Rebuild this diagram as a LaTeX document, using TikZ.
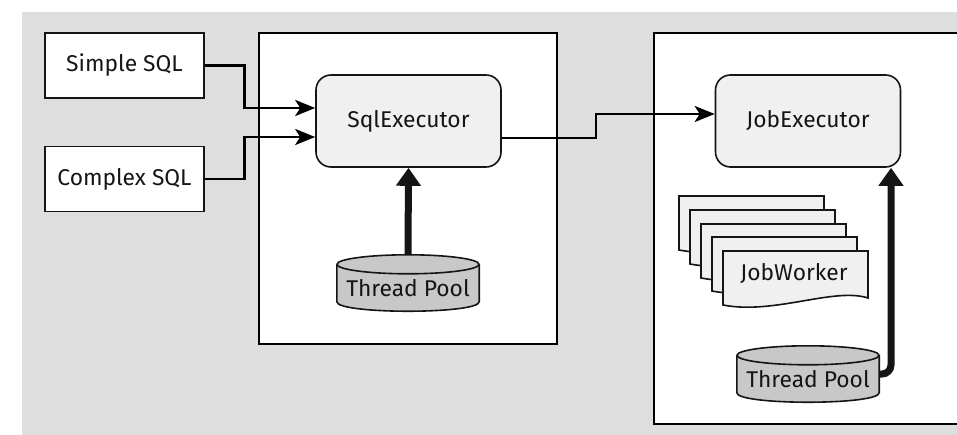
\documentclass[tikz,border=0pt]{standalone}
\usepackage{fontspec}
\setmainfont{Fira Sans}
\usetikzlibrary{arrows.meta,calc}

\definecolor{bggray}{HTML}{DEDEDE}
\definecolor{boxfill}{HTML}{F0F0F0}
\definecolor{poolfill}{HTML}{C8C8C8}
\definecolor{ink}{HTML}{151515}

\tikzset{
  label text/.style={font=\fontsize{22.8}{26}\selectfont, text=ink},
  plainbox/.style={draw=ink, line width=1.6pt, fill=white, minimum width=159pt, minimum height=65pt, inner sep=0pt, label text},
  execbox/.style={draw=ink, line width=1.6pt, fill=boxfill, rounded corners=15pt, minimum width=185pt, minimum height=92pt, inner sep=0pt, label text},
  poolbody/.style={minimum width=142pt, minimum height=56pt, inner sep=0pt},
  container/.style={draw=black, line width=2pt, fill=white},
  flow/.style={draw=black, line width=2.8pt, -{Stealth[length=20pt, width=16pt, inset=5pt]}},
  feed/.style={draw=ink, line width=7pt, -{Triangle[length=18pt, width=24pt]}},
  docpage/.style={draw=ink, line width=1.6pt, fill=boxfill},
}

\begin{document}
\begin{tikzpicture}[x=1pt, y=-1pt]
  \useasboundingbox (0,0) rectangle (957,435);
  \fill[bggray] (22,12) rectangle (957,435);

  % containers
  \draw[container] (259,33) rectangle (557,344);
  \fill[white] (654,33) rectangle (957,424);
  \draw[black, line width=2pt] (957,33) -- (654,33) -- (654,424) -- (957,424);

  % inputs
  \node[plainbox] (simple) at (124.5,65.5) {Simple SQL};
  \node[plainbox] (complex) at (124.5,179) {Complex SQL};

  % executors
  \node[execbox] (sql) at (408.5,121) {SqlExecutor};
  \node[execbox] (job) at (808,121) {JobExecutor};

  % thread pool cylinders
  \node[poolbody] (pool1) at (408,283) {};
  \node[poolbody] (pool2) at (808,374) {};
  \foreach \p in {pool1,pool2}{
    \path (\p.north west) ++(0,9.5) coordinate (\p-tl)
          (\p.north east) ++(0,9.5) coordinate (\p-tr)
          (\p.south west) ++(0,-9.5) coordinate (\p-bl)
          (\p.south east) ++(0,-9.5) coordinate (\p-br)
          (\p.north) ++(0,9.5) coordinate (\p-tc);
    \draw[draw=ink, line width=1.6pt, fill=poolfill]
      (\p-tl) -- (\p-bl) .. controls ($(\p-bl)+(0,12.7)$) and ($(\p-br)+(0,12.7)$) .. (\p-br) -- (\p-tr);
    \draw[draw=ink, line width=1.6pt, fill=poolfill] (\p-tc) ellipse [x radius=71pt, y radius=9.5pt];
  }
  \node[label text] at ($(pool1)+(0,5)$) {Thread Pool};
  \node[label text] at ($(pool2)+(0,5)$) {Thread Pool};

  % stack of job workers
  \foreach \i/\dx/\dy in {0/0/0,1/11/14,2/22/28,3/33/41,4/44/55}{
    \draw[docpage] (679+\dx,196+\dy) -- (824+\dx,196+\dy) -- (824+\dx,243+\dy)
      .. controls (790+\dx,232+\dy) and (730+\dx,260+\dy) .. (679+\dx,250+\dy) -- cycle;
  }
  \node[label text] (worker) at (794,274) {JobWorker};

  % connectors
  \draw[flow] (simple.east) -- ++(40,0) |- ($(sql.west)+(0,-13)$);
  \draw[flow] (complex.east) -- ++(40,0) |- ($(sql.west)+(0,16)$);
  \draw[flow] ($(sql.east)+(0,17)$) -- (596,138) |- ($(job.west)+(0,-7)$);
  \draw[feed] (pool1.north) -- (sql.south);
  \draw[feed, rounded corners=9pt] (pool2.east) -| ($(job.south)+(83,0)$);
\end{tikzpicture}
\end{document}
